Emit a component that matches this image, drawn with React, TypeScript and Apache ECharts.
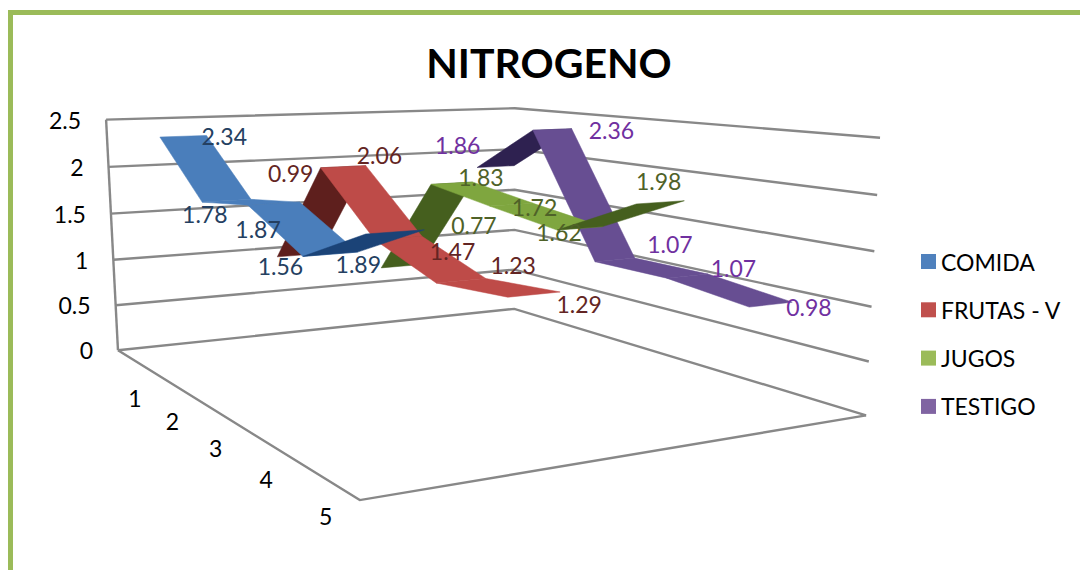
import React, { useEffect, useRef } from "react";
import * as echarts from "echarts";

const categories = ["1", "2", "3", "4", "5"];
const yTicks = [0, 0.5, 1, 1.5, 2, 2.5];
const comida = [2.34, 1.78, 1.87, 1.56, 1.89];
const frutas = [0.99, 2.06, 1.47, 1.23, 1.29];
const jugos = [0.77, 1.83, 1.72, 1.62, 1.98];
const testigo = [1.86, 2.36, 1.07, 1.07, 0.98];
const seriesNames = ["COMIDA", "FRUTAS - V", "JUGOS", "TESTIGO"];
const seriesValues = [comida, frutas, jugos, testigo];

const topColors = ["#4A7EBB", "#BE4B48", "#7FA63F", "#674E92"];
const underColors = ["#1B4377", "#5E1F1D", "#455F1E", "#2E2150"];
const legendColors = ["#4F81BD", "#C0504D", "#9BBB59", "#8064A2"];
const labelColors = ["#244061", "#632523", "#4F6228", "#7030A0"];

// Label nudges from each ribbon point, per series and category.
const labelNudges = [
  [[41, 0], [-22, 13], [-16, 25], [-50, 12], [-37, 32]],
  [[-8, -82], [36, -12], [54, 13], [52, -16], [45, 9]],
  [[73, -41], [29, -6], [23, 2], [-21, 4], [-2, -21]],
  [[-38, -22], [59, 1], [55, -16], [46, -8], [38, 2]],
];

const FONT = "Lato";
const GRID = { left: 100, top: 120, width: 500, height: 231 };
const HALF_RIBBON = 0.05;

// Camera calibration: box position (depth along categories, depth along series, height share) -> screen.
const calibration: number[][] = [
  [0, 0, 0, 117, 351], [1, 0, 0, 362, 499], [0, 1, 0, 515, 309], [1, 1, 0, 866, 417],
  [0, 0, 1, 108, 120], [0, 1, 1, 515, 108], [1, 1, 1, 880, 138],
  [0, 0, 0, 117, 351], [1, 0, 0, 362, 499], [0, 1, 0, 515, 309], [1, 1, 0, 866, 417],
  [0, 0, 1, 108, 120], [0, 1, 1, 515, 108], [1, 1, 1, 880, 138],
  [0.1, 0.075, 0.936, 162, 137], [0.1, 0.175, 0.936, 200, 135],
  [0.3, 0.075, 0.712, 203, 202], [0.3, 0.175, 0.712, 250, 199],
  [0.7, 0.075, 0.624, 305, 255], [0.7, 0.175, 0.624, 347, 240],
  [0.9, 0.075, 0.756, 363, 250], [0.9, 0.175, 0.756, 425, 228],
  [0.3, 0.325, 0.824, 323, 167], [0.3, 0.425, 0.824, 367, 166],
  [0.9, 0.325, 0.516, 510, 297], [0.9, 0.425, 0.516, 562, 292],
  [0.3, 0.575, 0.732, 432, 185], [0.3, 0.675, 0.732, 470, 183],
  [0.9, 0.575, 0.792, 640, 203], [0.9, 0.675, 0.792, 685, 200],
  [0.1, 0.825, 0.744, 478, 167], [0.1, 0.925, 0.744, 513, 167],
  [0.3, 0.825, 0.944, 533, 130], [0.3, 0.925, 0.944, 572, 129],
  [0.5, 0.825, 0.428, 597, 263], [0.5, 0.925, 0.428, 634, 256],
  [0.9, 0.825, 0.392, 750, 307], [0.9, 0.925, 0.392, 787, 300],
];

function solveCamera(pts: number[][]): number[] {
  const n = 11;
  const A: number[][] = Array.from({ length: n }, () => new Array(n + 1).fill(0));
  const add = (row: number[], rhs: number) => {
    for (let i = 0; i < n; i++) {
      for (let j = 0; j < n; j++) A[i][j] += row[i] * row[j];
      A[i][n] += row[i] * rhs;
    }
  };
  for (const [u, v, h, sx, sy] of pts) {
    const x = sx / 1000;
    const y = sy / 1000;
    add([u, v, h, 1, 0, 0, 0, 0, -x * u, -x * v, -x * h], x);
    add([0, 0, 0, 0, u, v, h, 1, -y * u, -y * v, -y * h], y);
  }
  for (let c = 0; c < n; c++) {
    let best = c;
    for (let r = c + 1; r < n; r++) if (Math.abs(A[r][c]) > Math.abs(A[best][c])) best = r;
    [A[c], A[best]] = [A[best], A[c]];
    for (let r = 0; r < n; r++) {
      if (r === c) continue;
      const f = A[r][c] / A[c][c];
      for (let k = c; k <= n; k++) A[r][k] -= f * A[c][k];
    }
  }
  return A.map((row, i) => row[n] / row[i]);
}

const cam = solveCamera(calibration);
function project(u: number, v: number, h: number): number[] {
  const w = cam[8] * u + cam[9] * v + cam[10] * h + 1;
  return [
    (1000 * (cam[0] * u + cam[1] * v + cam[2] * h + cam[3])) / w,
    (1000 * (cam[4] * u + cam[5] * v + cam[6] * h + cam[7])) / w,
  ];
}

// Turn a grid pixel from the hidden scales into box coordinates.
function fromGrid(p: number[]): number[] {
  return [(p[0] - GRID.left) / GRID.width, (GRID.top + GRID.height - p[1]) / GRID.height];
}

function signedArea(pts: number[][]): number {
  let a = 0;
  pts.forEach((p, i) => {
    const q = pts[(i + 1) % pts.length];
    a += p[0] * q[1] - q[0] * p[1];
  });
  return a;
}

function ribbonSeries(j: number) {
  const values = seriesValues[j];
  const vc = (j + 0.5) / seriesValues.length;
  return {
    type: "custom",
    name: seriesNames[j],
    xAxisIndex: 0,
    yAxisIndex: 0,
    itemStyle: { color: legendColors[j] },
    encode: { x: 0, y: 1 },
    silent: true,
    data: values.map((val, i) => [i, val]),
    renderItem: (_: any, api: any) => {
      const i = api.value(0) as number;
      const val = api.value(1) as number;
      const [u, h] = fromGrid(api.coord([i, val]));
      const children: any[] = [];
      if (i < values.length - 1) {
        const [u2, h2] = fromGrid(api.coord([i + 1, values[i + 1]]));
        const quad = [
          project(u, vc - HALF_RIBBON, h),
          project(u, vc + HALF_RIBBON, h),
          project(u2, vc + HALF_RIBBON, h2),
          project(u2, vc - HALF_RIBBON, h2),
        ];
        const fill = signedArea(quad) >= 0 ? topColors[j] : underColors[j];
        children.push({ type: "polygon", shape: { points: quad }, style: { fill, stroke: fill, lineWidth: 0.5 } });
      }
      return { type: "group", children };
    },
  };
}

function labelSeries() {
  return {
    type: "custom",
    xAxisIndex: 0,
    yAxisIndex: 0,
    silent: true,
    z: 5,
    encode: { x: 0, y: 1 },
    data: seriesValues.flatMap((values, j) => values.map((val, i) => [i, val, j])),
    renderItem: (_: any, api: any) => {
      const i = api.value(0) as number;
      const val = api.value(1) as number;
      const j = api.value(2) as number;
      const [u, h] = fromGrid(api.coord([i, val]));
      const p = project(u, (j + 0.5) / seriesValues.length, h);
      const n = labelNudges[j][i];
      return {
        type: "text",
        style: {
          x: p[0] + n[0],
          y: p[1] + n[1],
          text: val.toFixed(2),
          fill: labelColors[j],
          fontSize: 23,
          fontFamily: FONT,
          align: "center",
          verticalAlign: "middle",
        },
      };
    },
  };
}

function boxSeries() {
  const grey = "#888888";
  return {
    type: "custom",
    xAxisIndex: 0,
    yAxisIndex: 0,
    silent: true,
    z: 1,
    encode: { x: 0, y: 1 },
    data: [[0, 0]],
    renderItem: (_: any, api: any) => {
      const children: any[] = [];
      const line = (points: number[][]) =>
        children.push({ type: "polyline", shape: { points }, style: { stroke: grey, lineWidth: 2.4, fill: "none" } });
      yTicks.forEach((t) => {
        const h = fromGrid(api.coord([0, t]))[1];
        line([project(0, 0, h), project(0, 1, h), project(1, 1, h)]);
        const p = project(0, 0, h);
        children.push({
          type: "text",
          style: { x: p[0] - 25, y: p[1], text: String(t), fill: "#000", fontSize: 23, fontFamily: FONT, align: "right", verticalAlign: "middle" },
        });
      });
      line([project(0, 0, 0), project(0, 0, 1)]);
      line([project(0, 0, 0), project(1, 0, 0), project(1, 1, 0)]);
      categories.forEach((c, i) => {
        const u = fromGrid(api.coord([i, 0]))[0];
        const p = project(u, 0, 0);
        children.push({
          type: "text",
          style: { x: p[0], y: p[1] + 37, text: c, fill: "#000", fontSize: 23, fontFamily: FONT, align: "center", verticalAlign: "middle" },
        });
      });
      return { type: "group", children };
    },
  };
}

export default function App() {
  const ref = useRef<HTMLDivElement>(null);
  useEffect(() => {
    const chart = echarts.init(ref.current!, undefined, { renderer: "svg" });
    chart.setOption({
      animation: false,
      backgroundColor: "#fff",
      title: {
        text: "NITROGENO",
        left: 544,
        top: 37,
        textAlign: "center",
        textStyle: { fontFamily: FONT, fontWeight: "bold", fontSize: 41, color: "#000" },
      },
      legend: {
        data: seriesNames,
        orient: "vertical",
        left: 921,
        top: 250,
        padding: 0,
        icon: "rect",
        itemWidth: 15,
        itemHeight: 15,
        itemGap: 25.3,
        selectedMode: false,
        textStyle: { fontFamily: FONT, fontSize: 23, color: "#000" },
      },
      grid: { ...GRID },
      xAxis: { type: "category", data: categories, show: false },
      yAxis: { type: "value", min: 0, max: 2.5, interval: 0.5, show: false },
      graphic: [
        { type: "rect", shape: { x: 8, y: 10, width: 1072, height: 5 }, style: { fill: "#9BBB59" } },
        { type: "rect", shape: { x: 8, y: 10, width: 5, height: 560 }, style: { fill: "#9BBB59" } },
      ],
      series: [boxSeries(), ribbonSeries(3), ribbonSeries(2), ribbonSeries(1), ribbonSeries(0), labelSeries()],
    });
    return () => chart.dispose();
  }, []);
  return <div ref={ref} style={{ position: "absolute", left: 0, top: 0, width: 1080, height: 570 }} />;
}
